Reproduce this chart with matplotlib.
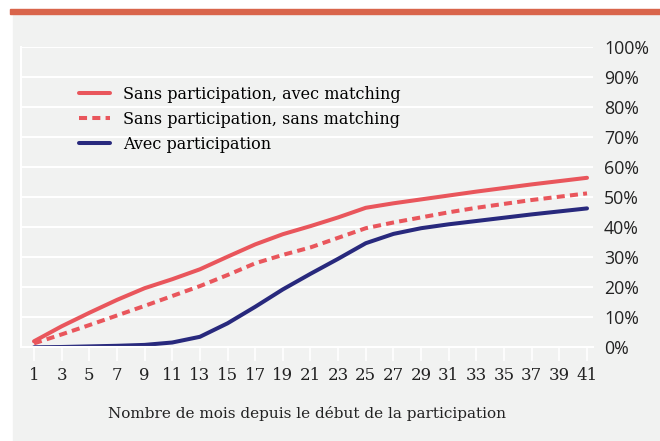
import matplotlib
matplotlib.use('Agg')
import matplotlib.pyplot as plt
from matplotlib.patches import Rectangle
from matplotlib.ticker import FuncFormatter

# months since start of participation (odd months)
months = list(range(1, 42, 2))
# share of people (%) per series
avec_matching = [2.0, 7.0, 11.5, 15.8, 19.7, 22.7, 26.0, 30.2, 34.3, 37.7, 40.4,
                 43.3, 46.5, 48.0, 49.3, 50.6, 51.9, 53.1, 54.3, 55.4, 56.5]
sans_matching = [1.3, 4.3, 7.4, 10.6, 13.8, 17.1, 20.4, 24.1, 28.0, 30.8, 33.3,
                 36.5, 39.7, 41.6, 43.3, 45.0, 46.5, 47.8, 49.1, 50.2, 51.3]
avec_participation = [0.0, 0.1, 0.3, 0.5, 0.8, 1.6, 3.5, 8.0, 13.5, 19.3, 24.5,
                      29.5, 34.7, 37.8, 39.7, 41.0, 42.1, 43.2, 44.3, 45.3, 46.3]
labels = ['Sans participation, avec matching',
          'Sans participation, sans matching',
          'Avec participation']
yticks = list(range(0, 101, 10))

red = '#e9565c'
navy = '#28297d'
bg = '#f1f2f1'
serif = 'DejaVu Serif'

fig = plt.figure(figsize=(6.6, 4.41), dpi=100)
W, H = 660, 441
# grey panel and top accent bar
fig.add_artist(Rectangle((13 / W, 0), 1 - 13 / W, 1 - 14 / H,
                         transform=fig.transFigure, color=bg, zorder=-10))
fig.add_artist(Rectangle((10 / W, 1 - 14 / H), 1 - 10 / W, 4.5 / H,
                         transform=fig.transFigure, color='#d9654b', zorder=-10))

ax = fig.add_axes([21 / W, 1 - 347.3 / H, (593 - 21) / W, 300 / H])
ax.set_facecolor('none')

ax.plot(months, avec_matching, color=red, lw=2.9, label=labels[0],
        solid_capstyle='round')
ax.plot(months, sans_matching, color=red, lw=2.9, ls=(0, (2.0, 1.3)),
        label=labels[1])
ax.plot(months, avec_participation, color=navy, lw=2.9, label=labels[2],
        solid_capstyle='round')

x0 = 1 - 13 / 13.83
x1 = 41 + 6 / 13.83
ax.set_xlim(x0, x1)
ax.set_ylim(0, 100)

ax.set_yticks(yticks)
ax.yaxis.set_major_formatter(FuncFormatter(lambda v, p: f'{int(v)}%'))
ax.yaxis.tick_right()
ax.tick_params(axis='y', length=0, pad=8, labelsize=12.8, labelcolor='#222222')
for t in ax.get_yticklabels():
    t.set_fontfamily('Open Sans')

ax.set_xticks(months)
ax.tick_params(axis='x', length=10, width=1.2, color='white', pad=4,
               labelsize=12, labelcolor='#222222')
for t in ax.get_xticklabels():
    t.set_fontfamily(serif)

ax.grid(axis='y', color='white', lw=1.5, zorder=0)
for s in ['top', 'right']:
    ax.spines[s].set_visible(False)
ax.spines['bottom'].set_color('white')
ax.spines['bottom'].set_linewidth(1.5)
ax.spines['left'].set_color('white')
ax.spines['left'].set_linewidth(1.5)
ax.set_axisbelow(True)

ax.set_xlabel('Nombre de mois depuis le début de la participation',
              fontfamily=serif, fontsize=11.0, color='#222222',
              labelpad=16)

leg = ax.legend(loc='upper left', bbox_to_anchor=(52 / 572, 1 - 32 / 300),
                frameon=False, handlelength=1.9, handletextpad=0.85,
                labelspacing=0.5, borderaxespad=0,
                prop={'family': serif, 'size': 11.5})

fig.savefig('out.png', dpi=100, facecolor='white')
